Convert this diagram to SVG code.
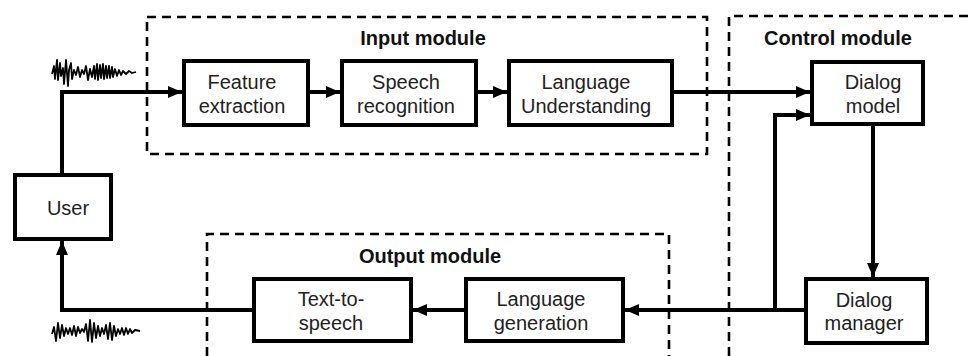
<svg xmlns="http://www.w3.org/2000/svg" width="968" height="356" viewBox="0 0 968 356">
<defs>
<style>
.box{fill:#fff;stroke:#000;stroke-width:4}
.mod{fill:none;stroke:#000;stroke-width:2.6;stroke-dasharray:9 6}
.con{fill:none;stroke:#000;stroke-width:4;stroke-linejoin:miter}
.wave{fill:none;stroke:#000;stroke-width:1.8;stroke-linejoin:round}
.t{font-family:"Liberation Sans",Arial,Helvetica,sans-serif;font-size:20px;fill:#222;text-anchor:middle}
.lbl{font-family:"Liberation Sans",Arial,Helvetica,sans-serif;font-size:20px;font-weight:bold;fill:#111;text-anchor:middle}
</style>
<marker id="arr" markerUnits="userSpaceOnUse" markerWidth="14" markerHeight="12" refX="14" refY="6" orient="auto">
<path d="M0,0 L14,6 L0,12 Z" fill="#000"/>
</marker>
</defs>
<rect width="968" height="356" fill="#fff"/>

<g id="modules">
<rect class="mod" x="147" y="17" width="560" height="137"/>
<text class="lbl" x="423" y="45">Input module</text>
<path class="mod" d="M729 356 V16 H968"/>
<text class="lbl" x="838" y="45">Control module</text>
<path class="mod" d="M207 356 V234 H669 V356"/>
<text class="lbl" x="430" y="263">Output module</text>
</g>

<g id="waveforms">
<path class="wave" d="M52 74 L54 66 L55 79 L57 60 L58 80 L60 63 L61 76 L63 68 L64 84 L66 60 L68 86 L69 70 L71 63 L72 79 L74 70 L76 75 L78 67 L80 77 L82 70 L84 74 L86 66 L88 80 L90 69 L92 77 L94 66 L95 79 L97 64 L98 80 L100 65 L101 78 L103 64 L104 79 L106 66 L107 78 L109 66 L110 78 L112 67 L113 77 L115 69 L117 76 L119 70 L121 75 L123 71 L126 74 L129 71 L132 73 L136 72"/>
<path class="wave" d="M52 334 L54 327 L56 341 L58 323 L60 338 L62 325 L64 336 L66 328 L68 334 L70 328 L72 335 L74 326 L76 336 L78 327 L80 333 L82 329 L84 332 L86 324 L88 341 L90 320 L92 342 L94 323 L96 338 L98 326 L100 336 L102 328 L104 334 L106 325 L108 339 L110 323 L112 340 L114 326 L116 336 L118 329 L120 334 L122 328 L124 335 L126 328 L128 334 L130 329 L132 333 L135 330 L140 331"/>
</g>

<g id="connectors">
<path class="con" d="M62 173 V92 H182" marker-end="url(#arr)"/>
<path class="con" d="M310 92 H340" marker-end="url(#arr)"/>
<path class="con" d="M478 92 H507" marker-end="url(#arr)"/>
<path class="con" d="M674 92 H810" marker-end="url(#arr)"/>
<path class="con" d="M775 310 V115 H810" marker-end="url(#arr)"/>
<path class="con" d="M873 126 V277" marker-end="url(#arr)"/>
<path class="con" d="M804 310 H625" marker-end="url(#arr)"/>
<path class="con" d="M464 310 H413" marker-end="url(#arr)"/>
<path class="con" d="M252 310 H62 V241" marker-end="url(#arr)"/>
</g>

<g id="user">
<rect class="box" x="15" y="175" width="96" height="64"/>
<text class="t" x="68" y="215">User</text>
</g>
<g id="feature-extraction">
<rect class="box" x="184" y="61" width="124" height="64"/>
<text class="t" x="242" y="89">Feature</text>
<text class="t" x="242" y="113">extraction</text>
</g>
<g id="speech-recognition">
<rect class="box" x="342" y="61" width="134" height="64"/>
<text class="t" x="406" y="89">Speech</text>
<text class="t" x="406" y="113">recognition</text>
</g>
<g id="language-understanding">
<rect class="box" x="509" y="61" width="163" height="64"/>
<text class="t" x="586" y="89">Language</text>
<text class="t" x="586" y="113">Understanding</text>
</g>
<g id="dialog-model">
<rect class="box" x="812" y="62" width="111" height="62"/>
<text class="t" x="873" y="89">Dialog</text>
<text class="t" x="873" y="113">model</text>
</g>
<g id="dialog-manager">
<rect class="box" x="806" y="279" width="121" height="64"/>
<text class="t" x="864" y="307">Dialog</text>
<text class="t" x="864" y="330">manager</text>
</g>
<g id="language-generation">
<rect class="box" x="466" y="279" width="157" height="62"/>
<text class="t" x="541" y="306">Language</text>
<text class="t" x="541" y="330">generation</text>
</g>
<g id="text-to-speech">
<rect class="box" x="254" y="279" width="157" height="62"/>
<text class="t" x="331" y="306">Text-to-</text>
<text class="t" x="331" y="330">speech</text>
</g>
</svg>
